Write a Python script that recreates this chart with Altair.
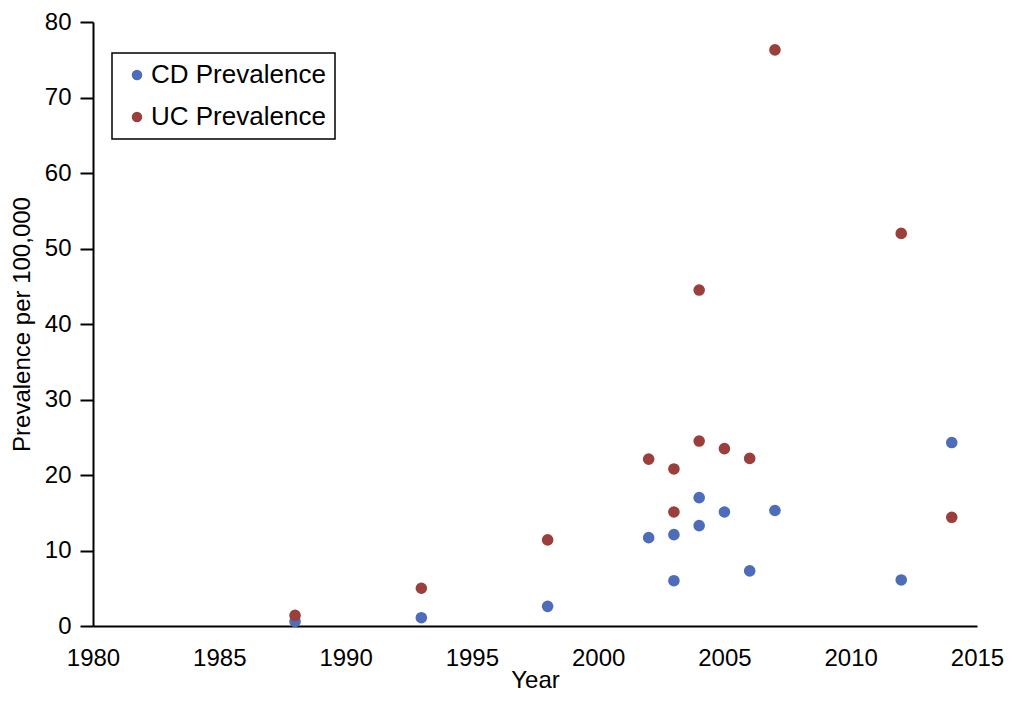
import altair as alt
import pandas as pd

series_names = ["CD Prevalence", "UC Prevalence"]
series_colors = ["#4D6CBA", "#9B3F3C"]

cd_years = [1988, 1993, 1998, 2002, 2003, 2003, 2004, 2004, 2005, 2006, 2007, 2012, 2014]
cd_values = [0.6, 1.1, 2.6, 11.7, 12.1, 6.0, 17.0, 13.3, 15.1, 7.3, 15.3, 6.1, 24.3]

uc_years = [1988, 1993, 1998, 2002, 2003, 2003, 2004, 2004, 2005, 2006, 2007, 2012, 2014]
uc_values = [1.4, 5.0, 11.4, 22.1, 20.8, 15.1, 44.5, 24.5, 23.5, 22.2, 76.3, 52.0, 14.4]

x_ticks = [1980, 1985, 1990, 1995, 2000, 2005, 2010, 2015]
y_ticks = [0, 10, 20, 30, 40, 50, 60, 70, 80]

rows = []
for y, v in zip(cd_years, cd_values):
    rows.append({"Year": y, "Value": v, "Series": series_names[0]})
for y, v in zip(uc_years, uc_values):
    rows.append({"Year": y, "Value": v, "Series": series_names[1]})
df = pd.DataFrame(rows)

FONT = "Liberation Sans"

chart = (
    alt.Chart(df)
    .mark_circle(size=135, opacity=1)
    .encode(
        x=alt.X(
            "Year:Q",
            scale=alt.Scale(domain=[1980, 2015], nice=False, zero=False),
            axis=alt.Axis(
                title="Year",
                values=x_ticks,
                format="d",
                ticks=False,
                tickSize=0,
                labelPadding=20,
                labelFlush=False,
                titleBaseline="alphabetic",
                titleY=61,
                grid=False,
            ),
        ),
        y=alt.Y(
            "Value:Q",
            scale=alt.Scale(domain=[0, 80], nice=False),
            axis=alt.Axis(
                title="Prevalence per 100,000",
                values=y_ticks,
                tickSize=13,
                labelPadding=9,
                labelFlush=False,
                titleX=-71,
                titleY=302,
                titleBaseline="middle",
                titleAlign="center",
                grid=False,
            ),
        ),
        color=alt.Color(
            "Series:N",
            scale=alt.Scale(domain=series_names, range=series_colors),
            legend=alt.Legend(
                title=None,
                orient="none",
                legendX=19,
                legendY=31,
                symbolType="circle",
                symbolSize=110,
                symbolOffset=3,
                labelOffset=1,
                labelLimit=400,
                rowPadding=16,
                padding=9,
                strokeColor="#000000",
                labelFontSize=26,
                labelFont=FONT,
                labelColor="#000000",
            ),
        ),
        order=alt.Order("Series:N"),
    )
    .properties(
        width=884,
        height=604,
        autosize=alt.AutoSizeParams(type="none"),
        padding={"left": 85, "top": 14, "right": 28, "bottom": 68},
    )
    .configure_view(stroke=None)
    .configure_axis(
        domainColor="#000000",
        domainWidth=2,
        tickColor="#000000",
        tickWidth=2,
        labelFont=FONT,
        labelFontSize=24,
        labelColor="#000000",
        titleFont=FONT,
        titleFontSize=24,
        titleFontWeight="normal",
        titleColor="#000000",
    )
    .configure_legend(strokeWidth=1.5)
)

chart.save("out.html", embed_options={"renderer": "svg", "actions": False})
